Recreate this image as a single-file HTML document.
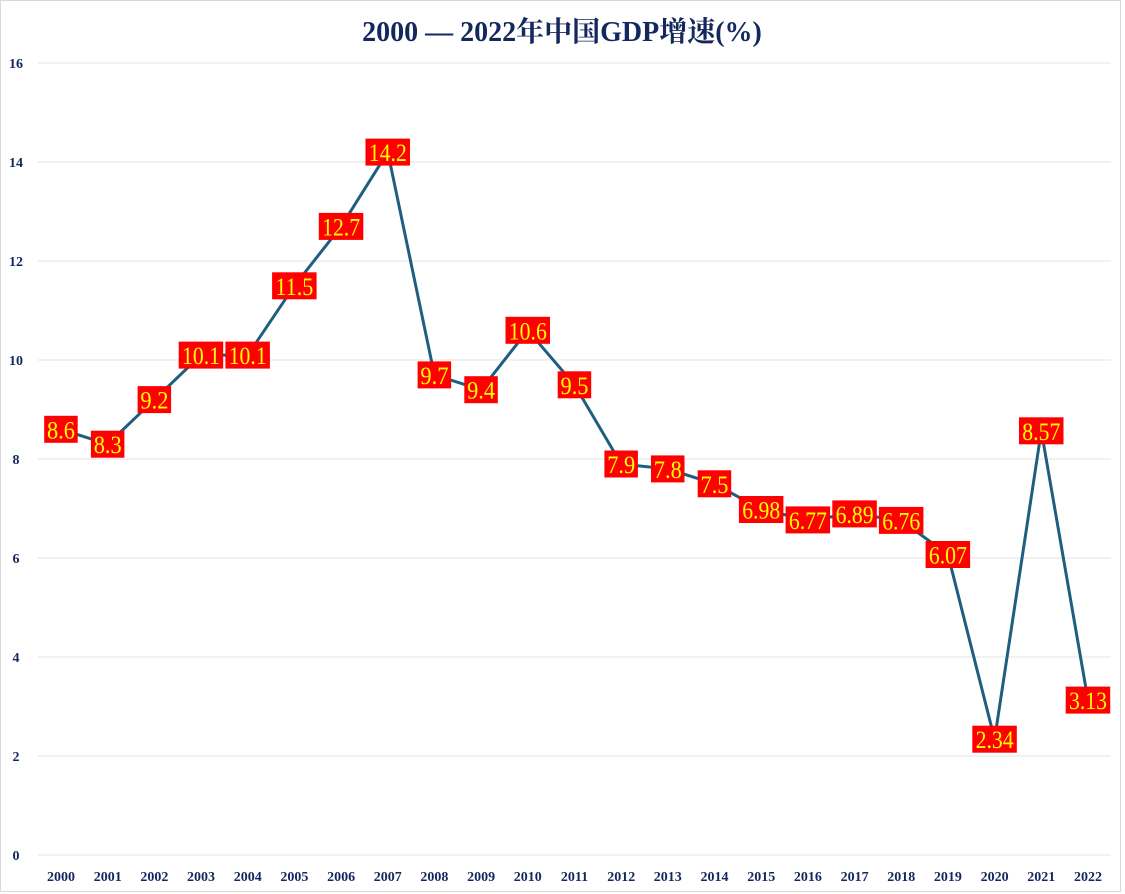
<!DOCTYPE html>
<html><head><meta charset="utf-8"><style>
html,body{margin:0;padding:0;background:#fff}
svg{display:block}
</style></head><body>
<svg width="1125" height="894" xmlns="http://www.w3.org/2000/svg" font-family="'Liberation Serif', 'Noto Serif CJK SC', serif">
<rect x="0.5" y="0.5" width="1120" height="891" fill="#fff" stroke="#d9d9d9"/>
<text x="562" y="41" text-anchor="middle" font-size="28" font-weight="bold" fill="#14285e">2000 — 2022年中国GDP增速(%)</text>
<g stroke="#e3e3e3" stroke-width="1">
<line x1="38" x2="1111" y1="63" y2="63"/><line x1="38" x2="1111" y1="162" y2="162"/>
<line x1="38" x2="1111" y1="261" y2="261"/><line x1="38" x2="1111" y1="360" y2="360"/>
<line x1="38" x2="1111" y1="459" y2="459"/><line x1="38" x2="1111" y1="558" y2="558"/>
<line x1="38" x2="1111" y1="657" y2="657"/><line x1="38" x2="1111" y1="756" y2="756"/>
<line x1="38" x2="1111" y1="855" y2="855"/>
</g>
<g font-size="14" font-weight="bold" fill="#14285e" text-anchor="middle">
<text x="16" y="68">16</text><text x="16" y="167">14</text><text x="16" y="266">12</text>
<text x="16" y="365">10</text><text x="16" y="464">8</text><text x="16" y="563">6</text>
<text x="16" y="662">4</text><text x="16" y="761">2</text><text x="16" y="860">0</text>
<text x="61" y="881">2000</text><text x="107.7" y="881">2001</text><text x="154.4" y="881">2002</text>
<text x="201" y="881">2003</text><text x="247.7" y="881">2004</text><text x="294.4" y="881">2005</text>
<text x="341.1" y="881">2006</text><text x="387.8" y="881">2007</text><text x="434.4" y="881">2008</text>
<text x="481.1" y="881">2009</text><text x="527.8" y="881">2010</text><text x="574.5" y="881">2011</text>
<text x="621.2" y="881">2012</text><text x="667.8" y="881">2013</text><text x="714.5" y="881">2014</text>
<text x="761.2" y="881">2015</text><text x="807.9" y="881">2016</text><text x="854.6" y="881">2017</text>
<text x="901.2" y="881">2018</text><text x="947.9" y="881">2019</text><text x="994.6" y="881">2020</text>
<text x="1041.3" y="881">2021</text><text x="1088" y="881">2022</text>
</g>
<polyline fill="none" stroke="#1e5f80" stroke-width="3" stroke-linejoin="round" points="61,429.3 107.7,444.2 154.4,399.6 201,355.1 247.7,355.1 294.4,285.8 341.1,226.4 387.8,152.1 434.4,374.9 481.1,389.7 527.8,330.3 574.5,384.8 621.2,464 667.8,468.9 714.5,483.8 761.2,509.5 807.9,519.9 854.6,513.9 901.2,520.4 947.9,554.5 994.6,739.2 1041.3,430.8 1088,700.1"/>
<g fill="#ff0000">
<rect x="44.2" y="415.8" width="33.5" height="27"/>
<rect x="90.9" y="430.7" width="33.5" height="27"/>
<rect x="137.6" y="386.1" width="33.5" height="27"/>
<rect x="178.7" y="341.6" width="44.5" height="27"/>
<rect x="225.4" y="341.6" width="44.5" height="27"/>
<rect x="272.1" y="272.3" width="44.5" height="27"/>
<rect x="318.8" y="212.9" width="44.5" height="27"/>
<rect x="365.5" y="138.6" width="44.5" height="27"/>
<rect x="417.6" y="361.4" width="33.5" height="27"/>
<rect x="464.3" y="376.2" width="33.5" height="27"/>
<rect x="505.5" y="316.8" width="44.5" height="27"/>
<rect x="557.7" y="371.3" width="33.5" height="27"/>
<rect x="604.4" y="450.5" width="33.5" height="27"/>
<rect x="651" y="455.4" width="33.5" height="27"/>
<rect x="697.7" y="470.3" width="33.5" height="27"/>
<rect x="738.9" y="496" width="44.5" height="27"/>
<rect x="785.6" y="506.4" width="44.5" height="27"/>
<rect x="832.3" y="500.4" width="44.5" height="27"/>
<rect x="878.9" y="506.9" width="44.5" height="27"/>
<rect x="925.6" y="541" width="44.5" height="27"/>
<rect x="972.3" y="725.7" width="44.5" height="27"/>
<rect x="1019" y="417.3" width="44.5" height="27"/>
<rect x="1065.7" y="686.6" width="44.5" height="27"/>
</g>
<g font-size="25" fill="#ffff00" text-anchor="middle" lengthAdjust="spacingAndGlyphs">
<text x="61" y="438.3" textLength="28" lengthAdjust="spacingAndGlyphs">8.6</text>
<text x="107.7" y="453.2" textLength="28" lengthAdjust="spacingAndGlyphs">8.3</text>
<text x="154.4" y="408.6" textLength="28" lengthAdjust="spacingAndGlyphs">9.2</text>
<text x="201" y="364.1" textLength="38" lengthAdjust="spacingAndGlyphs">10.1</text>
<text x="247.7" y="364.1" textLength="38" lengthAdjust="spacingAndGlyphs">10.1</text>
<text x="294.4" y="294.8" textLength="38" lengthAdjust="spacingAndGlyphs">11.5</text>
<text x="341.1" y="235.4" textLength="38" lengthAdjust="spacingAndGlyphs">12.7</text>
<text x="387.8" y="161.1" textLength="38" lengthAdjust="spacingAndGlyphs">14.2</text>
<text x="434.4" y="383.9" textLength="28" lengthAdjust="spacingAndGlyphs">9.7</text>
<text x="481.1" y="398.7" textLength="28" lengthAdjust="spacingAndGlyphs">9.4</text>
<text x="527.8" y="339.3" textLength="38" lengthAdjust="spacingAndGlyphs">10.6</text>
<text x="574.5" y="393.8" textLength="28" lengthAdjust="spacingAndGlyphs">9.5</text>
<text x="621.2" y="473" textLength="28" lengthAdjust="spacingAndGlyphs">7.9</text>
<text x="667.8" y="477.9" textLength="28" lengthAdjust="spacingAndGlyphs">7.8</text>
<text x="714.5" y="492.8" textLength="28" lengthAdjust="spacingAndGlyphs">7.5</text>
<text x="761.2" y="518.5" textLength="38" lengthAdjust="spacingAndGlyphs">6.98</text>
<text x="807.9" y="528.9" textLength="38" lengthAdjust="spacingAndGlyphs">6.77</text>
<text x="854.6" y="522.9" textLength="38" lengthAdjust="spacingAndGlyphs">6.89</text>
<text x="901.2" y="529.4" textLength="38" lengthAdjust="spacingAndGlyphs">6.76</text>
<text x="947.9" y="563.5" textLength="38" lengthAdjust="spacingAndGlyphs">6.07</text>
<text x="994.6" y="748.2" textLength="38" lengthAdjust="spacingAndGlyphs">2.34</text>
<text x="1041.3" y="439.8" textLength="38" lengthAdjust="spacingAndGlyphs">8.57</text>
<text x="1088" y="709.1" textLength="38" lengthAdjust="spacingAndGlyphs">3.13</text>
</g>
</svg>
</body></html>
